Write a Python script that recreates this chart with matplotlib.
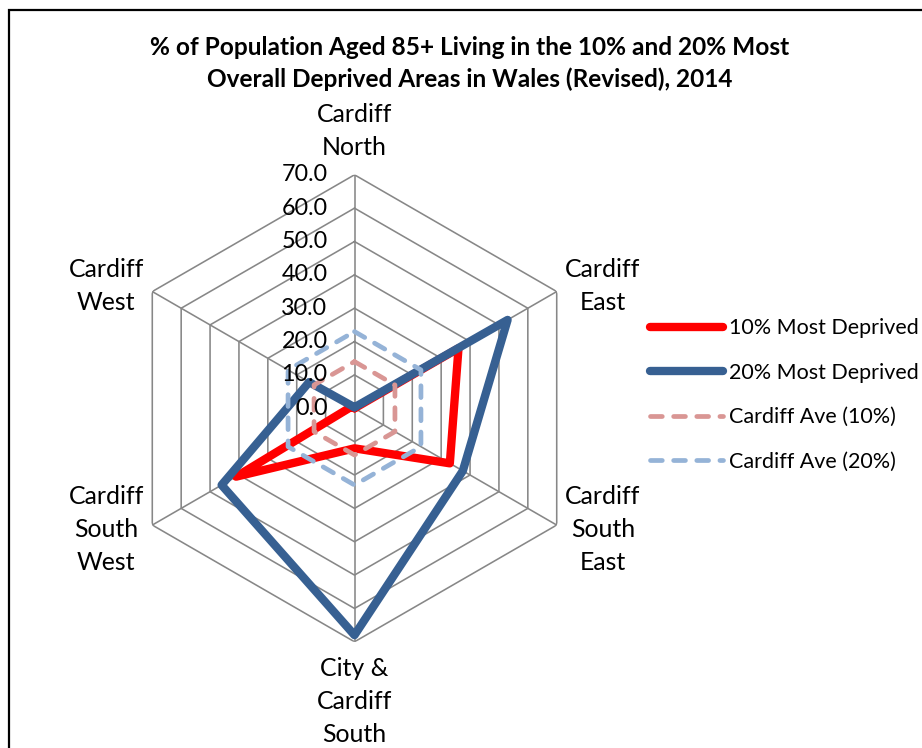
import numpy as np
import matplotlib
matplotlib.use("Agg")
import matplotlib.pyplot as plt
from matplotlib.patches import Rectangle

# ---- data ----
categories = ["Cardiff\nNorth", "Cardiff\nEast", "Cardiff\nSouth\nEast",
              "City &\nCardiff\nSouth", "Cardiff\nSouth\nWest", "Cardiff\nWest"]
most_deprived_10 = [0.0, 36.0, 33.0, 12.0, 41.0, 1.0]
most_deprived_20 = [0.3, 53.0, 37.5, 68.0, 46.0, 15.7]
cardiff_ave_10 = [14.0, 14.0, 14.0, 14.0, 14.0, 14.0]
cardiff_ave_20 = [23.0, 23.0, 23.0, 23.0, 23.0, 23.0]
series_names = ["10% Most Deprived", "20% Most Deprived",
                "Cardiff Ave (10%)", "Cardiff Ave (20%)"]
r_ticks = [0, 10, 20, 30, 40, 50, 60, 70]
title = ("% of Population Aged 85+ Living in the 10% and 20% Most\n"
         "Overall Deprived Areas in Wales (Revised), 2014")

FONT = "Lato"
plt.rcParams["font.family"] = [FONT, "DejaVu Sans"]

W, H = 922, 748
fig = plt.figure(figsize=(W / 100, H / 100), dpi=100)

# chart border (left & top visible, rest off canvas)
fig.patches.append(Rectangle((9 / W, -0.1), 2.0, 1.1 - 10 / H,
                             transform=fig.transFigure, fill=False,
                             edgecolor="black", linewidth=1.6))

cx, cy, R = 354.5, 408.3, 233.5
ax = fig.add_axes([(cx - R) / W, 1 - (cy + R) / H, 2 * R / W, 2 * R / H],
                  projection="polar")
ax.set_theta_zero_location("N")
ax.set_theta_direction(-1)
ax.set_ylim(0, 70)
ax.grid(False)
ax.set_xticks([])
ax.set_yticks([])
ax.spines["polar"].set_visible(False)
ax.patch.set_visible(False)

n = len(categories)
angles = np.linspace(0, 2 * np.pi, n, endpoint=False)
ang_c = np.append(angles, angles[0])

grid_col = "#878787"
for r in r_ticks[1:]:
    ax.plot(ang_c, [r] * (n + 1), color=grid_col, lw=1.15, zorder=1)
for a in angles:
    ax.plot([a, a], [0, r_ticks[-1]], color=grid_col, lw=1.15, zorder=1)

def closed(v):
    return list(v) + [v[0]]

h1, = ax.plot(ang_c, closed(most_deprived_10), color="#FF0000", lw=6,
              solid_joinstyle="round", solid_capstyle="round", zorder=3,
              label=series_names[0])
h2, = ax.plot(ang_c, closed(most_deprived_20), color="#376092", lw=6,
              solid_joinstyle="round", solid_capstyle="round", zorder=4,
              label=series_names[1])
h3, = ax.plot(ang_c, closed(cardiff_ave_10), color="#D99694", lw=3.4,
              linestyle=(0, (2.5, 2.4)), dash_capstyle="round", zorder=5,
              label=series_names[2])
h4, = ax.plot(ang_c, closed(cardiff_ave_20), color="#95B3D7", lw=3.4,
              linestyle=(0, (2.5, 2.4)), dash_capstyle="round", zorder=6,
              label=series_names[3])

# radial tick labels
for r in r_ticks:
    ax.annotate(f"{r:.1f}", xy=(0, r), xytext=(-27, 0),
                textcoords="offset pixels", ha="right", va="center",
                fontsize=16.8, color="black", zorder=10,
                annotation_clip=False)

# category labels
offsets = [(0, 44), (46, 5.5), (46, -4.5), (0, -60), (-46, -4.5), (-46, 5.5)]
for a, lab, off in zip(angles, categories, offsets):
    ax.annotate(lab, xy=(a, r_ticks[-1]), xytext=off,
                textcoords="offset pixels", ha="center", va="center",
                fontsize=17.9, linespacing=1.53, annotation_clip=False)

fig.text(470 / W, 1 - 63.3 / H, title, ha="center", va="center",
         fontsize=17.6, fontweight="bold", linespacing=1.45)

fig.legend(handles=[h1, h2, h3, h4], loc="upper left",
           bbox_to_anchor=(650 / W, 1 - 318.5 / H), frameon=False,
           fontsize=15.5, handlelength=3.4, handletextpad=0.25,
           labelspacing=1.13, borderpad=0, borderaxespad=0)

fig.savefig("out.png", dpi=100)
